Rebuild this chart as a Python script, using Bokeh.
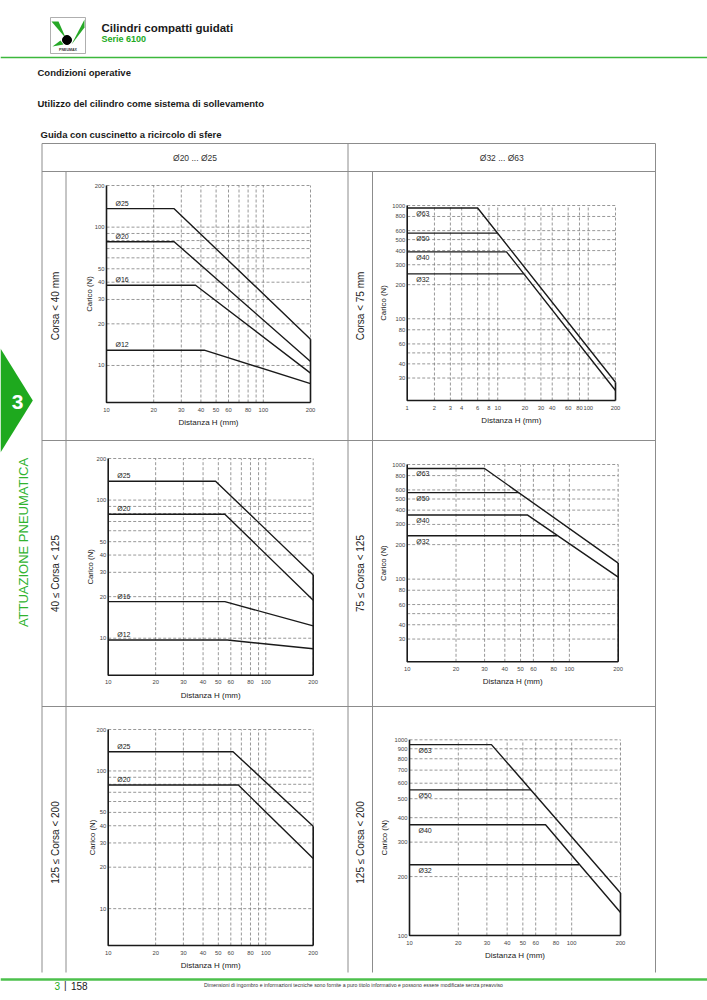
import math
from bokeh.plotting import figure
from bokeh.models import Range1d, LogScale
from bokeh.core.properties import value
from bokeh.embed import file_html
from bokeh.resources import INLINE

# ---------------- texts ----------------
TITLE = "Cilindri compatti guidati"
SUBTITLE = "Serie 6100"
SECTION_1 = "Condizioni operative"
SECTION_2 = "Utilizzo del cilindro come sistema di sollevamento"
SECTION_3 = "Guida con cuscinetto a ricircolo di sfere"
COLUMN_HEADERS = ["Ø20 ... Ø25", "Ø32 ... Ø63"]
ROW_LABELS_LEFT = ["Corsa < 40 mm", "40 ≤ Corsa < 125", "125 ≤ Corsa < 200"]
ROW_LABELS_RIGHT = ["Corsa < 75 mm", "75 ≤ Corsa < 125", "125 ≤ Corsa < 200"]
SIDEBAR_NUMBER = "3"
SIDEBAR_TEXT = "ATTUAZIONE PNEUMATICA"
FOOTER_CHAPTER = "3"
FOOTER_PAGE = "158"
FOOTER_NOTE = ("Dimensioni di ingombro e informazioni tecniche sono fornite a puro titolo "
               "informativo e possono essere modificate senza preavviso")
LOGO_TEXT = "PNEUMAX"
X_TITLE = "Distanza H (mm)"
Y_TITLE = "Carico (N)"

# ---------------- axes data ----------------
SMALL_X_RANGE = [10, 200]
SMALL_Y_RANGE = [5.4, 200]
SMALL_X_GRID = [20, 30, 40, 50, 60, 70, 80, 90, 100, 200]
SMALL_X_TICKS = [10, 20, 30, 40, 50, 60, 80, 100, 200]
SMALL_Y_GRID = [10, 20, 30, 40, 50, 60, 70, 80, 90, 100, 200]
SMALL_Y_TICKS = [10, 20, 30, 40, 50, 100, 200]

C2_X_RANGE = [1, 200]
C2_X_GRID = [2, 3, 4, 6, 8, 10, 20, 30, 40, 60, 80, 100, 200]
C2_X_TICKS = [1, 2, 3, 4, 6, 8, 10, 20, 30, 40, 60, 80, 100, 200]
BIG_X_RANGE = [10, 200]
BIG_X_GRID = [20, 30, 40, 50, 60, 80, 100, 200]
BIG_X_TICKS = [10, 20, 30, 40, 50, 60, 80, 100, 200]
BIG_Y_RANGE = [19, 1000]
BIG_Y_GRID = [30, 40, 50, 60, 80, 100, 200, 300, 400, 500, 600, 800, 1000]
BIG_Y_TICKS = [30, 40, 60, 80, 100, 200, 300, 400, 500, 600, 800, 1000]
C6_Y_RANGE = [100, 1000]
C6_Y_GRID = [200, 300, 400, 500, 600, 700, 800, 900, 1000]
C6_Y_TICKS = [100, 200, 300, 400, 500, 600, 700, 800, 900, 1000]

# ---------------- series data ----------------
# chart 1: Ø20...Ø25, Corsa < 40 mm
C1_D25_X = [10, 27, 200];   C1_D25_Y = [136, 136, 15.5]
C1_D20_X = [10, 27, 200];   C1_D20_Y = [78.5, 78.5, 10.7]
C1_D16_X = [10, 37, 200];   C1_D16_Y = [38, 38, 8.8]
C1_D12_X = [10, 42, 200];   C1_D12_Y = [12.9, 12.9, 7.4]
# chart 2: Ø32...Ø63, Corsa < 75 mm
C2_D63_X = [1, 6, 200];     C2_D63_Y = [950, 950, 27.5]
C2_D50_X = [1, 10];         C2_D50_Y = [570, 570]
C2_D40_X = [1, 12.5, 200];  C2_D40_Y = [390, 390, 23.3]
C2_D32_X = [1, 19.4];       C2_D32_Y = [249, 249]
# chart 3: Ø20...Ø25, 40 <= Corsa < 125
C3_D25_X = [10, 48, 200];   C3_D25_Y = [137, 137, 28.7]
C3_D20_X = [10, 55, 200];   C3_D20_Y = [79, 79, 18.8]
C3_D16_X = [10, 55, 200];   C3_D16_Y = [18.4, 18.4, 12.3]
C3_D12_X = [10, 57, 200];   C3_D12_Y = [9.7, 9.7, 8.4]
# chart 4: Ø32...Ø63, 75 <= Corsa < 125
C4_D63_X = [10, 30, 200];   C4_D63_Y = [923, 923, 138]
C4_D50_X = [10, 49];        C4_D50_Y = [568, 568]
C4_D40_X = [10, 55, 200];   C4_D40_Y = [363, 363, 104]
C4_D32_X = [10, 84];        C4_D32_Y = [239, 239]
# chart 5: Ø20...Ø25, 125 <= Corsa < 200
C5_D25_X = [10, 62, 200];   C5_D25_Y = [138, 138, 39.6]
C5_D20_X = [10, 67, 200];   C5_D20_Y = [79, 79, 23.1]
# chart 6: Ø32...Ø63, 125 <= Corsa < 200
C6_D63_X = [10, 32, 200];   C6_D63_Y = [945, 945, 165]
C6_D50_X = [10, 56];        C6_D50_Y = [555, 555]
C6_D40_X = [10, 69, 200];   C6_D40_Y = [368, 368, 131]
C6_D32_X = [10, 111];       C6_D32_Y = [230, 230]

# ---------------- layout (page pixels) ----------------
PW, PH = 707, 1000
LEFT, RIGHT, TOP, BOTTOM = 0, PW, 0, PH
FRAME_C1 = (106, 310, 185, 402)
FRAME_C2 = (406.7, 615, 205, 400)
FRAME_C3 = (107.7, 312.7, 458, 674.7)
FRAME_C4 = (406.7, 617.7, 464, 661.3)
FRAME_C5 = (107.7, 312.7, 729, 945)
FRAME_C6 = (409, 620, 739.3, 935)

T_L, T_MID, T_R = 41.5, 347.5, 655
T_DIV_L, T_DIV_R = 65.5, 372
T_TOP, T_HEAD, T_ROW1, T_ROW2, T_END = 143, 171, 440, 706, 972

FONT = value("Liberation Sans")
GREEN = "#2fb32f"
GRID_C = "#7d7d7d"
TABLE_C = "#8c8c8c"
INK = "#1a1a1a"

p = figure(width=PW, height=PH, x_range=Range1d(LEFT, RIGHT), y_range=Range1d(BOTTOM, TOP),
           output_backend="svg", toolbar_location=None, x_axis_type=None, y_axis_type=None,
           min_border=0, outline_line_color=None, background_fill_color="white",
           border_fill_color="white")


def txt(x, y, s, size, color=INK, bold=False, align="left", baseline="middle", angle=0.0):
    p.text(x=[x], y=[y], text=[s], text_font=FONT, text_font_size=f"{size}px",
           text_color=color, text_font_style="bold" if bold else "normal",
           text_align=align, text_baseline=baseline, angle=angle)


# ---------------- header ----------------
p.quad(left=[50], right=[85], top=[17], bottom=[53], fill_color="white",
       line_color="#9a9a9a", line_width=0.8)
p.patches(xs=[[51, 58, 65.5], [84, 84, 71], [52, 60, 63]],
          ys=[[21, 21, 38], [19, 27, 44], [46, 40, 44]],
          fill_color="#27a827", line_color=None)
p.scatter(x=[66.5], y=[39.5], size=9, color="black")
txt(67.5, 49.8, LOGO_TEXT, 3.6, color="#333333", bold=True, align="center")

txt(101, 27, TITLE, 11.5, bold=True)
txt(101, 38.5, SUBTITLE, 9, color="#22aa22", bold=True)
p.segment(x0=[LEFT], y0=[57], x1=[RIGHT], y1=[57], line_color="#3cb83c", line_width=1.6)

txt(37, 72, SECTION_1, 9.5, bold=True)
txt(37, 103, SECTION_2, 9.5, bold=True)
txt(40, 134, SECTION_3, 9.5, bold=True)

# ---------------- sidebar ----------------
p.patch(x=[0, 32.3, 0], y=[348, 400, 452], fill_color="#1ea91e", line_color=None)
txt(17, 401.5, SIDEBAR_NUMBER, 21, color="white", bold=True, align="center")
txt(22.5, 542, SIDEBAR_TEXT, 13, color=GREEN, align="center", angle=math.pi / 2)

# ---------------- table ----------------
p.segment(x0=[T_L, T_L, T_L, T_L], y0=[T_TOP, T_HEAD, T_ROW1, T_ROW2],
          x1=[T_R, T_R, T_R, T_R], y1=[T_TOP, T_HEAD, T_ROW1, T_ROW2],
          line_color=TABLE_C, line_width=1)
p.segment(x0=[T_L, T_MID, T_R, T_DIV_L, T_DIV_R], y0=[T_TOP, T_TOP, T_TOP, T_HEAD, T_HEAD],
          x1=[T_L, T_MID, T_R, T_DIV_L, T_DIV_R], y1=[T_END] * 5,
          line_color=TABLE_C, line_width=1)
txt((T_L + T_MID) / 2, (T_TOP + T_HEAD) / 2, COLUMN_HEADERS[0], 8.5, color="#333333", align="center")
txt((T_MID + T_R) / 2, (T_TOP + T_HEAD) / 2, COLUMN_HEADERS[1], 8.5, color="#333333", align="center")
row_centers = [(T_HEAD + T_ROW1) / 2, (T_ROW1 + T_ROW2) / 2, (T_ROW2 + T_END) / 2 + 3]
for yc, a, b in zip(row_centers, ROW_LABELS_LEFT, ROW_LABELS_RIGHT):
    txt((T_L + T_DIV_L) / 2 + 1, yc, a, 10, color="#222222", align="center", angle=math.pi / 2)
    txt((T_MID + T_DIV_R) / 2 + 0.5, yc, b, 10, color="#222222", align="center", angle=math.pi / 2)

# ---------------- footer ----------------
p.segment(x0=[LEFT], y0=[979], x1=[RIGHT], y1=[979], line_color="#4cc04c", line_width=2.5)
txt(54, 985, FOOTER_CHAPTER, 10, color="#22aa22")
txt(63.5, 985, "|", 10, color=INK)
txt(70.5, 985, FOOTER_PAGE, 10, color=INK)
txt(353, 984.5, FOOTER_NOTE, 5.2, color="#333333", align="center")

# ---------------- charts ----------------
x_ranges, y_ranges, x_scales, y_scales = {}, {}, {}, {}


def log_range(pa, pb, va, vb, f_start, f_end):
    la, lb = math.log10(va), math.log10(vb)
    k = (lb - la) / (pb - pa)
    return Range1d(start=10 ** (la + (f_start - pa) * k), end=10 ** (la + (f_end - pa) * k))


def chart(key, frame, xr, yr, xgrid, ygrid, xticks, yticks, series, side, ytitle_dx):
    X0, X1, Yt, Yb = frame
    xn, yn = key + "x", key + "y"
    x_ranges[xn] = log_range(X0, X1, xr[0], xr[1], LEFT, RIGHT)
    y_ranges[yn] = log_range(Yb, Yt, yr[0], yr[1], BOTTOM, TOP)
    x_scales[xn] = LogScale()
    y_scales[yn] = LogScale()
    kw = dict(x_range_name=xn, y_range_name=yn)
    # dashed grid
    p.segment(x0=xgrid, y0=[yr[0]] * len(xgrid), x1=xgrid, y1=[yr[1]] * len(xgrid),
              line_color=GRID_C, line_width=0.8, line_dash="3 2", **kw)
    p.segment(x0=[xr[0]] * len(ygrid), y0=ygrid, x1=[xr[1]] * len(ygrid), y1=ygrid,
              line_color=GRID_C, line_width=0.8, line_dash="3 2", **kw)
    # solid left and bottom axis
    p.line(x=[xr[0], xr[0], xr[1]], y=[yr[1], yr[0], yr[0]], line_color=INK, line_width=1.6, **kw)
    # solid right edge below the curves
    ends = [ys[-1] for _, xs, ys in series if xs[-1] == xr[1]]
    p.line(x=[xr[1], xr[1]], y=[yr[0], max(ends)], line_color=INK, line_width=1.6, **kw)
    # curves
    for name, xs, ys in series:
        p.line(x=xs, y=ys, line_color=INK, line_width=1.4, **kw)
    # series labels
    p.text(x=[xr[0]] * len(series), y=[s[2][0] for s in series], text=[s[0] for s in series],
           x_offset=9, y_offset=-2 if side == "above" else 2,
           text_baseline="bottom" if side == "above" else "top",
           text_font=FONT, text_font_size="7px", text_color=INK, **kw)
    # tick labels
    p.text(x=xticks, y=[yr[0]] * len(xticks), text=[str(t) for t in xticks], y_offset=7,
           text_align="center", text_baseline="middle", text_font=FONT,
           text_font_size="5.8px", text_color="#444444", **kw)
    p.text(x=[xr[0]] * len(yticks), y=yticks, text=[str(t) for t in yticks], x_offset=-2,
           text_align="right", text_baseline="middle", text_font=FONT,
           text_font_size="5.8px", text_color="#444444", **kw)
    # axis titles
    p.text(x=[math.sqrt(xr[0] * xr[1])], y=[yr[0]], text=[X_TITLE], y_offset=20,
           text_align="center", text_baseline="middle", text_font=FONT,
           text_font_size="8px", text_color=INK, **kw)
    p.text(x=[xr[0]], y=[math.sqrt(yr[0] * yr[1])], text=[Y_TITLE], x_offset=ytitle_dx,
           angle=math.pi / 2, text_align="center", text_baseline="middle", text_font=FONT,
           text_font_size="7.8px", text_color=INK, **kw)


chart("c1", FRAME_C1, SMALL_X_RANGE, SMALL_Y_RANGE, SMALL_X_GRID, SMALL_Y_GRID,
      SMALL_X_TICKS, SMALL_Y_TICKS,
      [("Ø25", C1_D25_X, C1_D25_Y), ("Ø20", C1_D20_X, C1_D20_Y),
       ("Ø16", C1_D16_X, C1_D16_Y), ("Ø12", C1_D12_X, C1_D12_Y)], "above", -17)
chart("c2", FRAME_C2, C2_X_RANGE, BIG_Y_RANGE, C2_X_GRID, BIG_Y_GRID,
      C2_X_TICKS, BIG_Y_TICKS,
      [("Ø63", C2_D63_X, C2_D63_Y), ("Ø50", C2_D50_X, C2_D50_Y),
       ("Ø40", C2_D40_X, C2_D40_Y), ("Ø32", C2_D32_X, C2_D32_Y)], "below", -24)
chart("c3", FRAME_C3, SMALL_X_RANGE, SMALL_Y_RANGE, SMALL_X_GRID, SMALL_Y_GRID,
      SMALL_X_TICKS, SMALL_Y_TICKS,
      [("Ø25", C3_D25_X, C3_D25_Y), ("Ø20", C3_D20_X, C3_D20_Y),
       ("Ø16", C3_D16_X, C3_D16_Y), ("Ø12", C3_D12_X, C3_D12_Y)], "above", -18)
chart("c4", FRAME_C4, BIG_X_RANGE, BIG_Y_RANGE, BIG_X_GRID, BIG_Y_GRID,
      BIG_X_TICKS, BIG_Y_TICKS,
      [("Ø63", C4_D63_X, C4_D63_Y), ("Ø50", C4_D50_X, C4_D50_Y),
       ("Ø40", C4_D40_X, C4_D40_Y), ("Ø32", C4_D32_X, C4_D32_Y)], "below", -24)
chart("c5", FRAME_C5, SMALL_X_RANGE, SMALL_Y_RANGE, SMALL_X_GRID, SMALL_Y_GRID,
      SMALL_X_TICKS, SMALL_Y_TICKS,
      [("Ø25", C5_D25_X, C5_D25_Y), ("Ø20", C5_D20_X, C5_D20_Y)], "above", -16)
chart("c6", FRAME_C6, BIG_X_RANGE, C6_Y_RANGE, BIG_X_GRID, C6_Y_GRID,
      BIG_X_TICKS, C6_Y_TICKS,
      [("Ø63", C6_D63_X, C6_D63_Y), ("Ø50", C6_D50_X, C6_D50_Y),
       ("Ø40", C6_D40_X, C6_D40_Y), ("Ø32", C6_D32_X, C6_D32_Y)], "below", -25)

p.extra_x_ranges = x_ranges
p.extra_y_ranges = y_ranges
p.extra_x_scales = x_scales
p.extra_y_scales = y_scales

open("out.html", "w").write(file_html(p, INLINE))
